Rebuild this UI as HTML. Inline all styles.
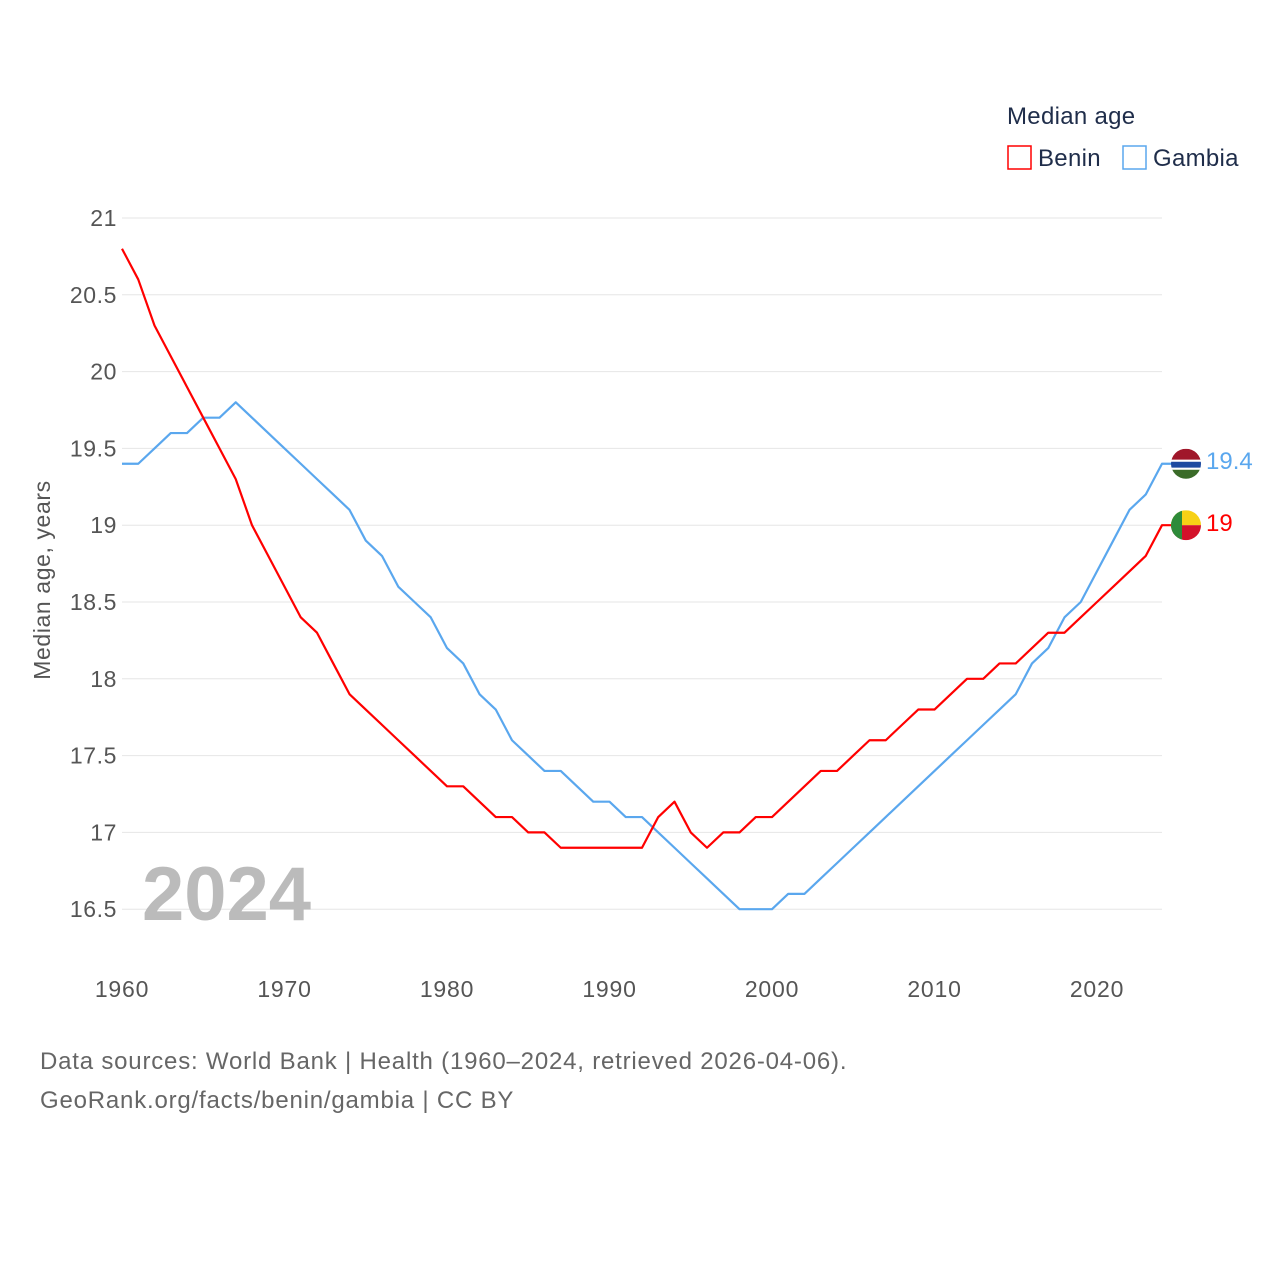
<!DOCTYPE html>
<html><head><meta charset="utf-8"><style>
html,body{margin:0;padding:0;background:#fff;}
svg{display:block;font-family:"Liberation Sans",sans-serif;}
</style></head><body>
<svg id="chart" width="1280" height="1280" viewBox="0 0 1280 1280">
<g id="grid"></g>
<g id="yticks"></g>
<g id="xticks"></g>
<text x="50" y="580" transform="rotate(-90 50 580)" text-anchor="middle" font-size="23" letter-spacing="0.6" fill="#555">Median age, years</text>
<text x="142" y="920" font-size="76" font-weight="bold" fill="#bbb">2024</text>
<g id="series"></g>
<g>
<text x="1007" y="124" font-size="24" letter-spacing="0.3" fill="#1f2d4a">Median age</text>
<g><rect x="1008" y="146" width="23" height="23" fill="none" stroke="#ff0000" stroke-width="1.5"/><text x="1038" y="166" font-size="24" letter-spacing="0.3" fill="#1f2d4a">Benin</text></g>
<g><rect x="1123" y="146" width="23" height="23" fill="none" stroke="#5aa7ee" stroke-width="1.5"/><text x="1153" y="166" font-size="24" letter-spacing="0.3" fill="#1f2d4a">Gambia</text></g>
</g>
<text x="40" y="1069" font-size="24" letter-spacing="0.8" fill="#666">Data sources: World Bank | Health (1960–2024, retrieved 2026-04-06).</text>
<text x="40" y="1108" font-size="24" letter-spacing="0.8" fill="#666">GeoRank.org/facts/benin/gambia | CC BY</text>
</svg>
<script>
const years=[];for(let y=1960;y<=2024;y++)years.push(y);
const benin=[20.8,20.6,20.3,20.1,19.9,19.7,19.5,19.3,19.0,18.8,18.6,18.4,18.3,18.1,17.9,17.8,17.7,17.6,17.5,17.4,17.3,17.3,17.2,17.1,17.1,17.0,17.0,16.9,16.9,16.9,16.9,16.9,16.9,17.1,17.2,17.0,16.9,17.0,17.0,17.1,17.1,17.2,17.3,17.4,17.4,17.5,17.6,17.6,17.7,17.8,17.8,17.9,18.0,18.0,18.1,18.1,18.2,18.3,18.3,18.4,18.5,18.6,18.7,18.8,19.0];
const gambia=[19.4,19.4,19.5,19.6,19.6,19.7,19.7,19.8,19.7,19.6,19.5,19.4,19.3,19.2,19.1,18.9,18.8,18.6,18.5,18.4,18.2,18.1,17.9,17.8,17.6,17.5,17.4,17.4,17.3,17.2,17.2,17.1,17.1,17.0,16.9,16.8,16.7,16.6,16.5,16.5,16.5,16.6,16.6,16.7,16.8,16.9,17.0,17.1,17.2,17.3,17.4,17.5,17.6,17.7,17.8,17.9,18.1,18.2,18.4,18.5,18.7,18.9,19.1,19.2,19.4];
const yTicks=[16.5,17,17.5,18,18.5,19,19.5,20,20.5,21];
const xTicks=[1960,1970,1980,1990,2000,2010,2020];
const X=y=>122+(y-1960)*16.25;
const Y=v=>218+(21-v)*153.6;
const NS="http://www.w3.org/2000/svg";
function mk(tag,attrs,parent){const e=document.createElementNS(NS,tag);for(const k in attrs)e.setAttribute(k,attrs[k]);parent.appendChild(e);return e;}
const grid=document.getElementById('grid'),yt=document.getElementById('yticks'),xt=document.getElementById('xticks'),ser=document.getElementById('series');
yTicks.forEach(v=>{
const l=mk('line',{x1:122,x2:1162,y1:Y(v),y2:Y(v),stroke:'#e6e6e6','stroke-width':1},grid);


const t=mk('text',{x:117,y:Y(v)+8,'text-anchor':'end','font-size':23,'letter-spacing':0.6,fill:'#555'},yt);
t.textContent=String(v);


});
xTicks.forEach(v=>{
const t=mk('text',{x:X(v),y:997,'text-anchor':'middle','font-size':23,'letter-spacing':0.8,fill:'#555'},xt);
t.textContent=String(v);


});
const xe=X(2024),cx=xe+24;
function line(data,color,name){
let d=data.map((v,i)=>(i?'L':'M')+X(years[i]).toFixed(2)+','+Y(v).toFixed(2)).join(' ');
d+=' L'+(cx-14)+','+Y(data[data.length-1]).toFixed(2);
const p=mk('path',{d:d,fill:'none',stroke:color,'stroke-width':2.2,'stroke-linejoin':'round'},ser);


}
line(gambia,'#5aa7ee','gambia-line');
line(benin,'#ff0000','benin-line');
const gl=gambia[gambia.length-1],bl=benin[benin.length-1];
const gf=mk('g',{},ser);


const gy=Y(gl);
mk('clipPath',{id:'cg'},gf);mk('circle',{cx:cx,cy:gy,r:15},gf.lastChild);
const gg=mk('g',{'clip-path':'url(#cg)'},gf);
mk('rect',{x:cx-15,y:gy-15,width:30,height:11,fill:'#a0172a'},gg);
mk('rect',{x:cx-15,y:gy-4,width:30,height:2,fill:'#fff'},gg);
mk('rect',{x:cx-15,y:gy-2,width:30,height:6,fill:'#1d4aa0'},gg);
mk('rect',{x:cx-15,y:gy+4,width:30,height:2,fill:'#fff'},gg);
mk('rect',{x:cx-15,y:gy+6,width:30,height:10,fill:'#3a6b28'},gg);
const gt=mk('text',{x:cx+20,y:gy+5,'font-size':24,fill:'#5aa7ee'},ser);
gt.textContent=String(gl);


const bf=mk('g',{},ser);


const by=Y(bl);
mk('clipPath',{id:'cb'},bf);mk('circle',{cx:cx,cy:by,r:15},bf.lastChild);
const bg=mk('g',{'clip-path':'url(#cb)'},bf);
mk('rect',{x:cx-15,y:by-15,width:30,height:15,fill:'#f7d116'},bg);
mk('rect',{x:cx-15,y:by,width:30,height:15,fill:'#d3122a'},bg);
mk('rect',{x:cx-15,y:by-15,width:11,height:30,fill:'#2e8b3a'},bg);
const bt=mk('text',{x:cx+20,y:by+6,'font-size':24,fill:'#ff0000'},ser);
bt.textContent=String(bl);


</script>
</body></html>
